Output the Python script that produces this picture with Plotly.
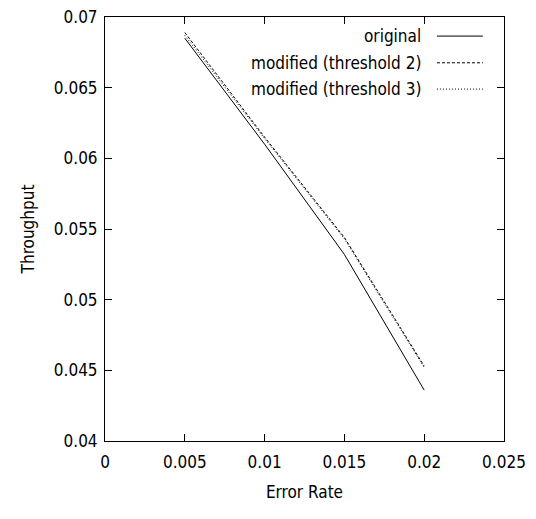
import plotly.graph_objects as go

error_rate = [0.005, 0.01, 0.015, 0.02]
original = [0.0685, 0.0610, 0.0532, 0.0436]
threshold2 = [0.0689, 0.0615, 0.0544, 0.0453]
threshold3 = [0.0687, 0.0614, 0.0543, 0.0452]
series_names = ["original", "modified (threshold 2)", "modified (threshold 3)"]
x_ticks = [0, 0.005, 0.01, 0.015, 0.02, 0.025]
x_tick_labels = ["0", "0.005", "0.01", "0.015", "0.02", "0.025"]
y_ticks = [0.04, 0.045, 0.05, 0.055, 0.06, 0.065, 0.07]
y_tick_labels = ["0.04", "0.045", "0.05", "0.055", "0.06", "0.065", "0.07"]

FONT = "DejaVu Sans Condensed, Liberation Sans, Arial, sans-serif"
FS = 17

fig = go.Figure()
styles = [("solid", "black"), ("3px,2px", "black"), ("1px,2px", "black")]
for name, ys, (dash, col) in zip(series_names, [original, threshold2, threshold3], styles):
    fig.add_trace(go.Scatter(x=error_rate, y=ys, mode="lines", name=name,
                             line=dict(color=col, width=1, dash=dash), showlegend=False))

# manual gnuplot-style legend (text right-aligned, sample to the right)
legend_rows = [0.955, 0.892, 0.830]
for name, (dash, col), yy in zip(series_names, styles, legend_rows):
    fig.add_annotation(x=0.797, y=yy, xref="paper", yref="paper", text=name,
                       showarrow=False, xanchor="right", yanchor="middle",
                       font=dict(family=FONT, size=FS, color="black"))
    fig.add_shape(type="line", xref="paper", yref="paper", x0=0.832, x1=0.947, y0=yy, y1=yy,
                  line=dict(color=col, width=1, dash=dash))

axis_common = dict(showline=True, linecolor="black", linewidth=1, mirror="allticks",
                   ticks="inside", ticklen=7, tickcolor="black", showgrid=False, zeroline=False,
                   automargin=False, ticklabeloverflow="allow",
                   tickfont=dict(family=FONT, size=FS, color="black"))
fig.update_xaxes(range=[0, 0.025], tickvals=x_ticks, ticktext=x_tick_labels, ticklabelstandoff=6,
                 title=dict(text="Error Rate", font=dict(family=FONT, size=FS, color="black"), standoff=14),
                 **axis_common)
fig.update_yaxes(range=[0.04, 0.07], tickvals=y_ticks, ticktext=y_tick_labels, ticklabelstandoff=3,
                 title=dict(text="Throughput", font=dict(family=FONT, size=FS, color="black"), standoff=14),
                 **axis_common)
# page body has an 8px default margin, so the figure is shrunk by that amount
fig.update_layout(width=528, height=511, margin=dict(l=97, r=32, t=9, b=78),
                  plot_bgcolor="white", paper_bgcolor="white")
fig.write_html("out.html")
